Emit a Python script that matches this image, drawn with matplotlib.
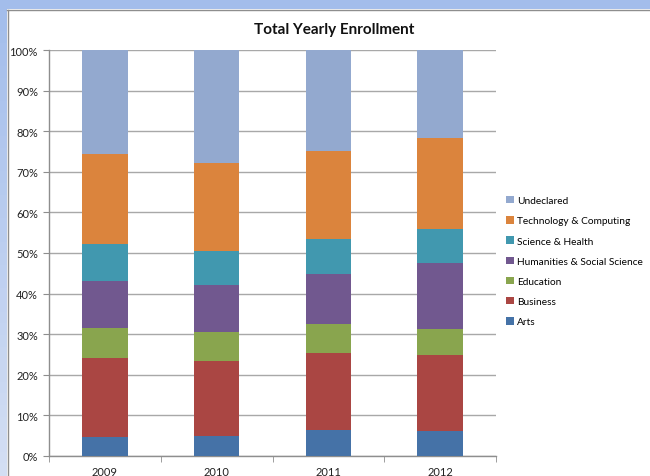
import matplotlib
matplotlib.use("Agg")
import matplotlib.pyplot as plt
import numpy as np
from matplotlib.patches import Rectangle

plt.rcParams['font.family'] = ['Lato', 'DejaVu Sans']

years = ["2009", "2010", "2011", "2012"]
series_names = ["Arts", "Business", "Education", "Humanities & Social Science",
                "Science & Health", "Technology & Computing", "Undeclared"]
arts = [4.6, 4.9, 6.5, 6.1]
business = [19.5, 18.6, 18.8, 18.7]
education = [7.5, 7.1, 7.2, 6.5]
humanities = [11.4, 11.5, 12.4, 16.3]
science = [9.3, 8.4, 8.5, 8.4]
technology = [22.2, 21.7, 21.7, 22.4]
undeclared = [25.5, 27.8, 24.9, 21.6]
colors = ["#4572A7", "#AA4643", "#89A54E", "#71588F", "#4198AF", "#DB843D", "#93A9CF"]
yticks = [0, 10, 20, 30, 40, 50, 60, 70, 80, 90, 100]

fig = plt.figure(figsize=(6.5, 4.77), dpi=100)
fig.patch.set_facecolor("white")

# Window frame: top blue strip and left gradient strip
W, H = 650, 477
fig.patches.append(Rectangle((0, 1 - 10 / H), 1, 10 / H, transform=fig.transFigure,
                             facecolor="#A3BDEB", edgecolor="none", zorder=0))
n = 40
c0 = np.array(matplotlib.colors.to_rgb("#A3BDEB"))
c1 = np.array(matplotlib.colors.to_rgb("#D3DEF3"))
for i in range(n):
    t = i / (n - 1)
    col = c0 * (1 - t) + c1 * t
    y0 = 1 - 10 / H - (i + 1) * (H - 10) / H / n
    fig.patches.append(Rectangle((0, y0), 7 / W, (H - 10) / H / n + 0.002,
                                 transform=fig.transFigure, facecolor=col,
                                 edgecolor="none", zorder=0))
# gray border lines of chart area
fig.add_artist(plt.Line2D([7 / W, 1], [1 - 10.5 / H, 1 - 10.5 / H], transform=fig.transFigure,
                          color="#8E8E8E", lw=1.0))
fig.add_artist(plt.Line2D([7.5 / W, 7.5 / W], [0, 1 - 10.5 / H], transform=fig.transFigure,
                          color="#8E8E8E", lw=1.0))

ax = fig.add_axes([49 / W, 1 - 457 / H, (496 - 49) / W, (457 - 51) / H])
ax.set_facecolor("none")

data = [arts, business, education, humanities, science, technology, undeclared]
x = np.arange(len(years))
bottom = np.zeros(len(years))
handles = []
for vals, name, col in zip(data, series_names, colors):
    b = ax.bar(x, vals, width=0.405, bottom=bottom, color=col, label=name,
               edgecolor="none", zorder=3)
    handles.append(b)
    bottom += np.array(vals)

ax.set_xlim(-0.5, 3.5)
ax.set_ylim(0, 100)
ax.set_yticks(yticks)
ax.set_yticklabels([f"{v}%" for v in yticks], fontsize=8, color="#222222")
ax.yaxis.grid(True, color="#A8A8A8", lw=1.0, zorder=0)
ax.set_xticks(x)
ax.set_xticklabels(years, fontsize=8, color="#222222")
ax.set_xticks(np.arange(-0.5, 4.0, 1.0), minor=True)
ax.tick_params(axis="x", which="major", length=0, pad=7)
ax.tick_params(axis="x", which="minor", length=4, color="#8E8E8E", direction="out")
ax.tick_params(axis="y", length=4, color="#8E8E8E", direction="out", pad=4)
for s in ["top", "right"]:
    ax.spines[s].set_visible(False)
for s in ["left", "bottom"]:
    ax.spines[s].set_color("#8E8E8E")
    ax.spines[s].set_linewidth(1.0)

fig.text(334 / W, 1 - 30 / H, "Total Yearly Enrollment", ha="center", va="center",
         fontsize=11, fontweight="bold", color="#111111")

leg = fig.legend(handles[::-1], series_names[::-1], loc="upper left",
                 bbox_to_anchor=(506 / W, 1 - 197 / H), frameon=False, fontsize=7.3,
                 handlelength=0.75, handleheight=0.75, handletextpad=0.35,
                 labelspacing=1.08, borderaxespad=0, borderpad=0)

fig.savefig("out.png", dpi=100)
